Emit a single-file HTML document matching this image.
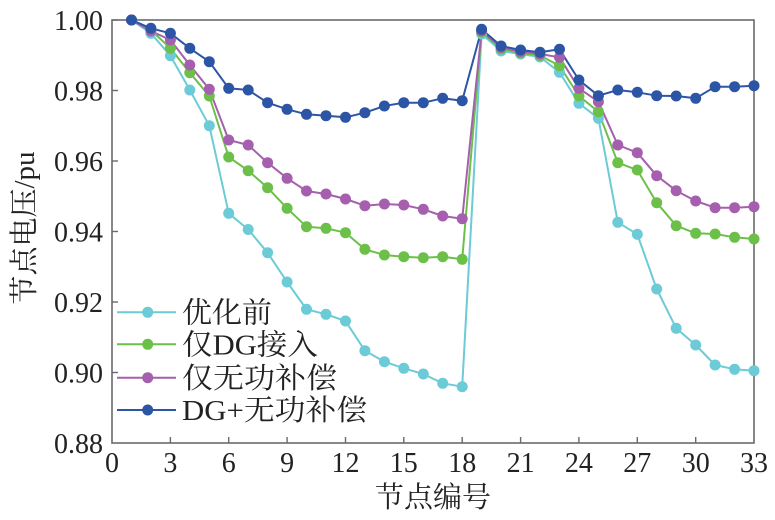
<!DOCTYPE html>
<html><head><meta charset="utf-8"><style>
html,body{margin:0;padding:0;background:#fff;}
svg{display:block;}
text{font-family:"Liberation Serif","Noto Serif CJK SC","Noto Sans CJK SC",serif;fill:#222;}
</style></head><body>
<svg width="775" height="520" viewBox="0 0 775 520" xmlns="http://www.w3.org/2000/svg">
<rect width="775" height="520" fill="#fff"/>
<!-- frame -->
<rect x="112" y="20" width="642" height="423" fill="none" stroke="#6a6a6a" stroke-width="1.6"/>
<!-- ticks -->
<g stroke="#6a6a6a" stroke-width="1.4">
<line x1="112" y1="20" x2="118" y2="20"/>
<line x1="112" y1="90.5" x2="118" y2="90.5"/>
<line x1="112" y1="161" x2="118" y2="161"/>
<line x1="112" y1="231.5" x2="118" y2="231.5"/>
<line x1="112" y1="302" x2="118" y2="302"/>
<line x1="112" y1="372.5" x2="118" y2="372.5"/>
<line x1="170.4" y1="443" x2="170.4" y2="437"/>
<line x1="228.7" y1="443" x2="228.7" y2="437"/>
<line x1="287.1" y1="443" x2="287.1" y2="437"/>
<line x1="345.5" y1="443" x2="345.5" y2="437"/>
<line x1="403.8" y1="443" x2="403.8" y2="437"/>
<line x1="462.2" y1="443" x2="462.2" y2="437"/>
<line x1="520.6" y1="443" x2="520.6" y2="437"/>
<line x1="578.9" y1="443" x2="578.9" y2="437"/>
<line x1="637.3" y1="443" x2="637.3" y2="437"/>
<line x1="695.7" y1="443" x2="695.7" y2="437"/>
</g>
<!-- y labels -->
<g font-size="28" text-anchor="end">
<text x="103" y="30">1.00</text>
<text x="103" y="100.5">0.98</text>
<text x="103" y="171">0.96</text>
<text x="103" y="241.5">0.94</text>
<text x="103" y="312">0.92</text>
<text x="103" y="382.5">0.90</text>
<text x="103" y="453">0.88</text>
</g>
<!-- x labels -->
<g font-size="28" text-anchor="middle">
<text x="112" y="472">0</text>
<text x="170.4" y="472">3</text>
<text x="228.7" y="472">6</text>
<text x="287.1" y="472">9</text>
<text x="345.5" y="472">12</text>
<text x="403.8" y="472">15</text>
<text x="462.2" y="472">18</text>
<text x="520.6" y="472">21</text>
<text x="578.9" y="472">24</text>
<text x="637.3" y="472">27</text>
<text x="695.7" y="472">30</text>
<text x="754" y="472">33</text>
</g>
<text x="433" y="507" font-size="29" text-anchor="middle">节点编号</text>
<text transform="translate(34,228) rotate(-90)" font-size="29" text-anchor="middle">节点电压/pu</text>

<!-- series -->
<g fill="none" stroke-width="2" stroke-linejoin="round">
<polyline stroke="#6ccbd6" points="131.5,20 150.9,33.3 170.4,55.7 189.8,90 209.3,125.7 228.7,213.3 248.2,229.5 267.6,252.7 287.1,282 306.5,309.3 326,314.3 345.5,321 364.9,350.7 384.4,361.7 403.8,368.3 423.3,374 442.7,383.3 462.2,386.7 481.6,34 501.1,51 520.6,54 540,57 559.5,72.3 578.9,103.3 598.4,118.3 617.8,222.3 637.3,234.3 656.7,289 676.2,328.3 695.7,345 715.1,365 734.6,369.3 754,370.7"/>
<polyline stroke="#6cc04a" points="131.5,20 150.9,30 170.4,48.3 189.8,72.7 209.3,96 228.7,157 248.2,170.7 267.6,187.7 287.1,208.3 306.5,226.7 326,228.3 345.5,232.7 364.9,249.3 384.4,255 403.8,256.7 423.3,257.7 442.7,256.7 462.2,259.3 481.6,32 501.1,49 520.6,53 540,55.5 559.5,65.7 578.9,96 598.4,111.7 617.8,162.7 637.3,170 656.7,202.7 676.2,225.7 695.7,233.3 715.1,234 734.6,237.3 754,239"/>
<polyline stroke="#a55fae" points="131.5,20 150.9,31 170.4,40 189.8,65 209.3,89.3 228.7,140 248.2,145 267.6,162.7 287.1,178.3 306.5,191 326,194 345.5,199 364.9,205.7 384.4,204 403.8,205 423.3,209.3 442.7,216 462.2,218.7 481.6,31 501.1,47.5 520.6,51.5 540,54 559.5,57.3 578.9,88.3 598.4,101.7 617.8,145 637.3,152.7 656.7,175.7 676.2,190.7 695.7,201 715.1,207.7 734.6,207.7 754,206.7"/>
<polyline stroke="#2c55a5" points="131.5,20 150.9,28.3 170.4,33.3 189.8,48.3 209.3,61.7 228.7,88.3 248.2,90 267.6,102.7 287.1,109.3 306.5,114.3 326,115.7 345.5,117.3 364.9,112.7 384.4,106 403.8,102.7 423.3,102.7 442.7,98.3 462.2,100.7 481.6,29.3 501.1,46 520.6,50 540,52.3 559.5,49.3 578.9,80 598.4,95.7 617.8,90 637.3,92.3 656.7,95.7 676.2,96 695.7,98.3 715.1,86.7 734.6,86.7 754,85.7"/>
</g>
<g fill="#6ccbd6">
<circle cx="131.5" cy="20" r="5.5"/><circle cx="150.9" cy="33.3" r="5.5"/><circle cx="170.4" cy="55.7" r="5.5"/><circle cx="189.8" cy="90" r="5.5"/><circle cx="209.3" cy="125.7" r="5.5"/><circle cx="228.7" cy="213.3" r="5.5"/><circle cx="248.2" cy="229.5" r="5.5"/><circle cx="267.6" cy="252.7" r="5.5"/><circle cx="287.1" cy="282" r="5.5"/><circle cx="306.5" cy="309.3" r="5.5"/><circle cx="326" cy="314.3" r="5.5"/><circle cx="345.5" cy="321" r="5.5"/><circle cx="364.9" cy="350.7" r="5.5"/><circle cx="384.4" cy="361.7" r="5.5"/><circle cx="403.8" cy="368.3" r="5.5"/><circle cx="423.3" cy="374" r="5.5"/><circle cx="442.7" cy="383.3" r="5.5"/><circle cx="462.2" cy="386.7" r="5.5"/><circle cx="481.6" cy="34" r="5.5"/><circle cx="501.1" cy="51" r="5.5"/><circle cx="520.6" cy="54" r="5.5"/><circle cx="540" cy="57" r="5.5"/><circle cx="559.5" cy="72.3" r="5.5"/><circle cx="578.9" cy="103.3" r="5.5"/><circle cx="598.4" cy="118.3" r="5.5"/><circle cx="617.8" cy="222.3" r="5.5"/><circle cx="637.3" cy="234.3" r="5.5"/><circle cx="656.7" cy="289" r="5.5"/><circle cx="676.2" cy="328.3" r="5.5"/><circle cx="695.7" cy="345" r="5.5"/><circle cx="715.1" cy="365" r="5.5"/><circle cx="734.6" cy="369.3" r="5.5"/><circle cx="754" cy="370.7" r="5.5"/>
</g>
<g fill="#6cc04a">
<circle cx="131.5" cy="20" r="5.5"/><circle cx="150.9" cy="30" r="5.5"/><circle cx="170.4" cy="48.3" r="5.5"/><circle cx="189.8" cy="72.7" r="5.5"/><circle cx="209.3" cy="96" r="5.5"/><circle cx="228.7" cy="157" r="5.5"/><circle cx="248.2" cy="170.7" r="5.5"/><circle cx="267.6" cy="187.7" r="5.5"/><circle cx="287.1" cy="208.3" r="5.5"/><circle cx="306.5" cy="226.7" r="5.5"/><circle cx="326" cy="228.3" r="5.5"/><circle cx="345.5" cy="232.7" r="5.5"/><circle cx="364.9" cy="249.3" r="5.5"/><circle cx="384.4" cy="255" r="5.5"/><circle cx="403.8" cy="256.7" r="5.5"/><circle cx="423.3" cy="257.7" r="5.5"/><circle cx="442.7" cy="256.7" r="5.5"/><circle cx="462.2" cy="259.3" r="5.5"/><circle cx="481.6" cy="32" r="5.5"/><circle cx="501.1" cy="49" r="5.5"/><circle cx="520.6" cy="53" r="5.5"/><circle cx="540" cy="55.5" r="5.5"/><circle cx="559.5" cy="65.7" r="5.5"/><circle cx="578.9" cy="96" r="5.5"/><circle cx="598.4" cy="111.7" r="5.5"/><circle cx="617.8" cy="162.7" r="5.5"/><circle cx="637.3" cy="170" r="5.5"/><circle cx="656.7" cy="202.7" r="5.5"/><circle cx="676.2" cy="225.7" r="5.5"/><circle cx="695.7" cy="233.3" r="5.5"/><circle cx="715.1" cy="234" r="5.5"/><circle cx="734.6" cy="237.3" r="5.5"/><circle cx="754" cy="239" r="5.5"/>
</g>
<g fill="#a55fae">
<circle cx="131.5" cy="20" r="5.5"/><circle cx="150.9" cy="31" r="5.5"/><circle cx="170.4" cy="40" r="5.5"/><circle cx="189.8" cy="65" r="5.5"/><circle cx="209.3" cy="89.3" r="5.5"/><circle cx="228.7" cy="140" r="5.5"/><circle cx="248.2" cy="145" r="5.5"/><circle cx="267.6" cy="162.7" r="5.5"/><circle cx="287.1" cy="178.3" r="5.5"/><circle cx="306.5" cy="191" r="5.5"/><circle cx="326" cy="194" r="5.5"/><circle cx="345.5" cy="199" r="5.5"/><circle cx="364.9" cy="205.7" r="5.5"/><circle cx="384.4" cy="204" r="5.5"/><circle cx="403.8" cy="205" r="5.5"/><circle cx="423.3" cy="209.3" r="5.5"/><circle cx="442.7" cy="216" r="5.5"/><circle cx="462.2" cy="218.7" r="5.5"/><circle cx="481.6" cy="31" r="5.5"/><circle cx="501.1" cy="47.5" r="5.5"/><circle cx="520.6" cy="51.5" r="5.5"/><circle cx="540" cy="54" r="5.5"/><circle cx="559.5" cy="57.3" r="5.5"/><circle cx="578.9" cy="88.3" r="5.5"/><circle cx="598.4" cy="101.7" r="5.5"/><circle cx="617.8" cy="145" r="5.5"/><circle cx="637.3" cy="152.7" r="5.5"/><circle cx="656.7" cy="175.7" r="5.5"/><circle cx="676.2" cy="190.7" r="5.5"/><circle cx="695.7" cy="201" r="5.5"/><circle cx="715.1" cy="207.7" r="5.5"/><circle cx="734.6" cy="207.7" r="5.5"/><circle cx="754" cy="206.7" r="5.5"/>
</g>
<g fill="#2c55a5">
<circle cx="131.5" cy="20" r="5.5"/><circle cx="150.9" cy="28.3" r="5.5"/><circle cx="170.4" cy="33.3" r="5.5"/><circle cx="189.8" cy="48.3" r="5.5"/><circle cx="209.3" cy="61.7" r="5.5"/><circle cx="228.7" cy="88.3" r="5.5"/><circle cx="248.2" cy="90" r="5.5"/><circle cx="267.6" cy="102.7" r="5.5"/><circle cx="287.1" cy="109.3" r="5.5"/><circle cx="306.5" cy="114.3" r="5.5"/><circle cx="326" cy="115.7" r="5.5"/><circle cx="345.5" cy="117.3" r="5.5"/><circle cx="364.9" cy="112.7" r="5.5"/><circle cx="384.4" cy="106" r="5.5"/><circle cx="403.8" cy="102.7" r="5.5"/><circle cx="423.3" cy="102.7" r="5.5"/><circle cx="442.7" cy="98.3" r="5.5"/><circle cx="462.2" cy="100.7" r="5.5"/><circle cx="481.6" cy="29.3" r="5.5"/><circle cx="501.1" cy="46" r="5.5"/><circle cx="520.6" cy="50" r="5.5"/><circle cx="540" cy="52.3" r="5.5"/><circle cx="559.5" cy="49.3" r="5.5"/><circle cx="578.9" cy="80" r="5.5"/><circle cx="598.4" cy="95.7" r="5.5"/><circle cx="617.8" cy="90" r="5.5"/><circle cx="637.3" cy="92.3" r="5.5"/><circle cx="656.7" cy="95.7" r="5.5"/><circle cx="676.2" cy="96" r="5.5"/><circle cx="695.7" cy="98.3" r="5.5"/><circle cx="715.1" cy="86.7" r="5.5"/><circle cx="734.6" cy="86.7" r="5.5"/><circle cx="754" cy="85.7" r="5.5"/>
</g>

<!-- legend -->
<g stroke-width="2">
<line x1="117" y1="312.3" x2="176" y2="312.3" stroke="#6ccbd6"/>
<line x1="117" y1="344.3" x2="176" y2="344.3" stroke="#6cc04a"/>
<line x1="117" y1="377.7" x2="176" y2="377.7" stroke="#a55fae"/>
<line x1="117" y1="410" x2="176" y2="410" stroke="#2c55a5"/>
</g>
<circle cx="147.7" cy="312.3" r="5.5" fill="#6ccbd6"/>
<circle cx="147.7" cy="344.3" r="5.5" fill="#6cc04a"/>
<circle cx="147.7" cy="377.7" r="5.5" fill="#a55fae"/>
<circle cx="147.7" cy="410" r="5.5" fill="#2c55a5"/>
<g font-size="29">
<text x="182" y="322.5" textLength="90" lengthAdjust="spacingAndGlyphs">优化前</text>
<text x="182" y="354.5" textLength="136" lengthAdjust="spacingAndGlyphs">仅DG接入</text>
<text x="182" y="388" textLength="155" lengthAdjust="spacingAndGlyphs">仅无功补偿</text>
<text x="182" y="420" textLength="185" lengthAdjust="spacingAndGlyphs">DG+无功补偿</text>
</g>
</svg>
</body></html>
